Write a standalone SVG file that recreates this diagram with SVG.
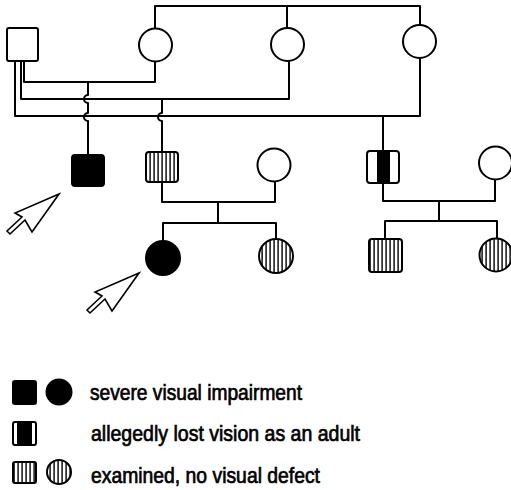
<svg xmlns="http://www.w3.org/2000/svg" width="511" height="490" viewBox="0 0 511 490">
<style>
.ln{fill:none;stroke:#000;stroke-width:2;stroke-linejoin:round}
.open{fill:#fff;stroke:#000;stroke-width:2}
.solid{fill:#000;stroke:#000;stroke-width:2}
.str{fill:url(#vs);stroke:#000;stroke-width:2}
.arw{fill:#fff;stroke:#000;stroke-width:1.6;stroke-linejoin:miter}
.lg{font-family:"Liberation Sans",Arial,sans-serif;font-size:22px;fill:#000;stroke:#000;stroke-width:0.7}
</style>
<defs>
<pattern id="vs" width="4" height="4" patternUnits="userSpaceOnUse">
<rect width="4" height="4" fill="#fff"/>
<rect x="1.4" width="1.4" height="4" fill="#000"/>
</pattern>
<polygon id="arrow" points="0,0 -44,19 -37,23 -52,37 -49,40 -34,26 -27,38"/>
</defs>
<rect width="511" height="490" fill="#fff"/>
<g id="connectors">
<path class="ln" d="M155,28 V6 H420 V25"/>
<path class="ln" d="M287,6 V28"/>
<path class="ln" d="M24,61 V82 H155 V62"/>
<path class="ln" d="M21,61 V99 H289 V61"/>
<path class="ln" d="M15,61 V116 H420 V58"/>
<path class="ln" d="M88,82 V95 A4,4 0 0 0 88,103 V113 A4,4 0 0 0 88,121 V154"/>
<path class="ln" d="M162,99 V113 A4,4 0 0 0 162,121 V152"/>
<path class="ln" d="M383,116 V151"/>
<path class="ln" d="M162,182 V202 H275 V182"/>
<path class="ln" d="M218,202 V223"/>
<path class="ln" d="M163,241 V223 H276 V239"/>
<path class="ln" d="M383,183 V201 H495 V180"/>
<path class="ln" d="M439,201 V221"/>
<path class="ln" d="M385,239 V221 H497 V238"/>
</g>
<g id="gen1-male"><rect class="open" x="7" y="28" width="31" height="33" rx="2"/></g>
<g id="gen1-wife1"><circle class="open" cx="155.5" cy="45" r="16.5"/></g>
<g id="gen1-wife2"><circle class="open" cx="287.5" cy="44.5" r="16.5"/></g>
<g id="gen1-wife3"><circle class="open" cx="419.5" cy="41.5" r="16.5"/></g>
<g id="son1"><rect class="solid" x="72" y="155" width="32" height="31" rx="3"/></g>
<g id="son2"><rect class="str" x="146" y="152" width="32" height="30" rx="3"/></g>
<g id="son2-wife"><circle class="open" cx="274" cy="165" r="16.5"/></g>
<g id="son3">
<rect class="open" x="367" y="151" width="32" height="32" rx="3"/>
<rect x="377" y="152" width="13" height="30" fill="#000"/>
</g>
<g id="son3-wife"><circle class="open" cx="495.5" cy="163" r="16.5"/></g>
<g id="daughter1"><circle class="solid" cx="163" cy="258" r="17"/></g>
<g id="daughter2"><circle class="str" cx="276" cy="256" r="17"/></g>
<g id="grandson3"><rect class="str" x="369" y="239" width="33" height="33" rx="3"/></g>
<g id="granddaughter3"><circle class="str" cx="496" cy="255" r="16.5"/></g>
<g id="arrow1"><use href="#arrow" class="arw" transform="translate(59,194)"/></g>
<g id="arrow2"><use href="#arrow" class="arw" transform="translate(139,273)"/></g>
<g id="legend">
<rect class="solid" x="13" y="381" width="23" height="23" rx="2"/>
<circle class="solid" cx="59" cy="392" r="12.5"/>
<rect class="open" x="13" y="422" width="23" height="23" rx="2"/>
<rect x="17" y="423" width="15" height="21" fill="#000"/>
<rect class="str" x="13" y="462" width="23" height="21" rx="2"/>
<circle class="str" cx="59" cy="472" r="12"/>
<text class="lg" x="90" y="400" textLength="212" lengthAdjust="spacingAndGlyphs">severe visual impairment</text>
<text class="lg" x="91" y="441" textLength="269" lengthAdjust="spacingAndGlyphs">allegedly lost vision as an adult</text>
<text class="lg" x="91" y="483" textLength="229" lengthAdjust="spacingAndGlyphs">examined, no visual defect</text>
</g>
</svg>
